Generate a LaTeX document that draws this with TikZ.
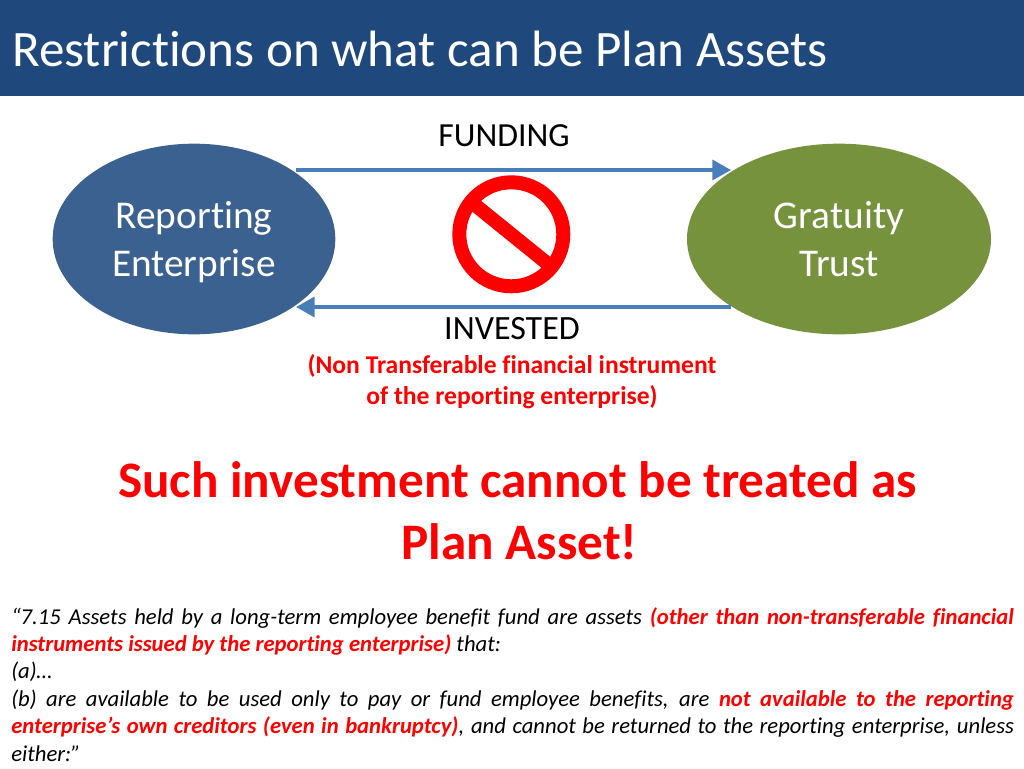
\documentclass[tikz,border=0pt]{standalone}
\usepackage{fontspec}
\setmainfont[Ligatures=NoCommon]{Carlito}
\usetikzlibrary{arrows.meta,shapes.geometric}
\definecolor{headblue}{HTML}{1F497D}
\definecolor{ellblue}{HTML}{3A6190}
\definecolor{ellgreen}{HTML}{76923C}
\definecolor{arrowblue}{HTML}{4A7EBB}
\newcommand{\elline}[1]{\strut\raisebox{-3pt}{#1}}
\tikzset{
  ell/.style={ellipse,inner sep=0pt,text=white,align=center,font=\fontsize{29.5}{35.7}\selectfont},
  flow/.style={draw=arrowblue,line width=2.6pt,-{Triangle[length=14pt,width=15pt]}},
  lab/.style={inner sep=0pt,anchor=center,align=center},
  para/.style={inner sep=0pt,anchor=north west,text width=752pt,font=\fontsize{17}{20.55}\selectfont\itshape,align=justify}
}
\begin{document}
\begin{tikzpicture}[x=0.75pt,y=-0.75pt]
\useasboundingbox (0,0) rectangle (1024,768);
\fill[white] (0,0) rectangle (1024,768);
\fill[headblue] (0,0) rectangle (1024,96);
\node[lab,anchor=west,text=white,font=\fontsize{38.3}{44}\selectfont] (title) at (12,49) {Restrictions on what can be Plan Assets};
\node[lab,font=\fontsize{25.3}{28}\selectfont] (funding) at (504,136) {FUNDING};
\node[ell,fill=ellblue,minimum width=212pt,minimum height=143pt] (rep) at (194,239) {\elline{Reporting}\\\elline{Enterprise}};
\node[ell,fill=ellgreen,minimum width=228pt,minimum height=143pt] (trust) at (839,239) {\elline{Gratuity}\\\elline{Trust}};
\coordinate (fa) at (296,170);
\coordinate (fb) at (731,170);
\coordinate (ia) at (731,307);
\coordinate (ib) at (296,307);
\draw[flow] (fa) -- (fb);
\draw[flow] (ia) -- (ib);
\node[circle,draw=red,line width=10.5pt,minimum size=78pt,inner sep=0pt,outer sep=0pt,fill=white] (sign) at (511.3,234.3) {};
\draw[red,line width=10.5pt] (sign.141) -- (sign.321);
\node[lab,font=\fontsize{25.5}{28}\selectfont] (invested) at (512,329) {INVESTED};
\node[lab,text=red,font=\fontsize{19.2}{23.3}\selectfont\bfseries] (note) at (512,382) {(Non Transferable financial instrument\\of the reporting enterprise)};
\node[lab,text=red,font=\fontsize{38.4}{46.5}\selectfont\bfseries] (such) at (517.5,511) {Such investment cannot be treated as\\\hspace*{3pt}Plan Asset!};
\node[para] (quote) at (11,607) {“7.15 Assets held by a long-term employee benefit fund are assets \textcolor{red}{\textbf{(other than non-transferable financial\linebreak instruments issued by the reporting enterprise)}} that:\\(a)…\\(b) are available to be used only to pay or fund employee benefits, are \textcolor{red}{\textbf{not available to the reporting\linebreak enterprise’s own creditors (even in bankruptcy)}}, and cannot be returned to the reporting enterprise, unless\linebreak either:”};
\end{tikzpicture}
\end{document}
